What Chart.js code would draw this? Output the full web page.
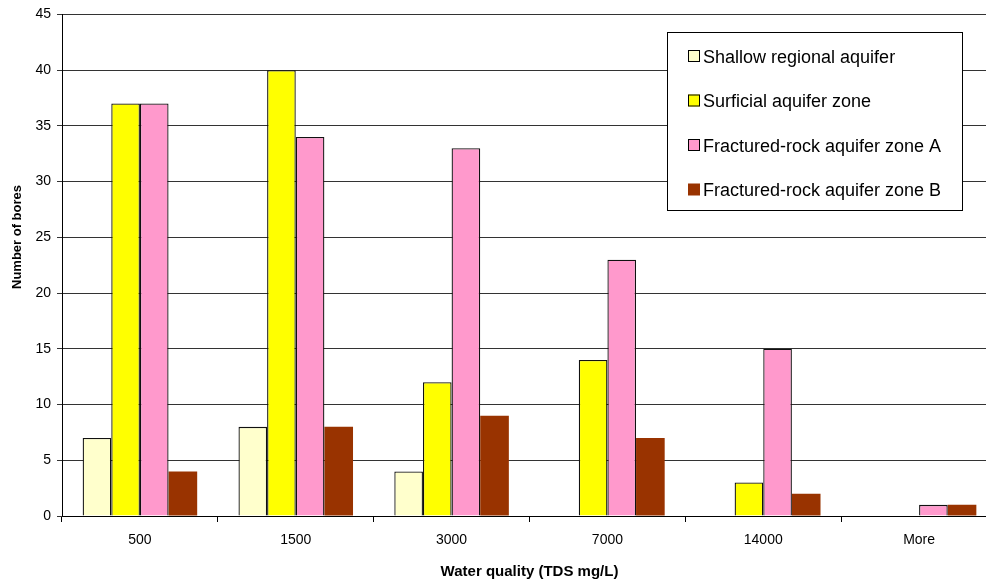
<!DOCTYPE html>
<html>
<head>
<meta charset="utf-8">
<script src="https://cdn.jsdelivr.net/npm/chart.js@4"></script>
<style>
  html, body { margin: 0; padding: 0; background: #fff; overflow: hidden; }
  #wrap { width: 997px; height: 581px; }
</style>
</head>
<body>
<div id="wrap"><canvas id="chart"></canvas></div>
<script>
// categories and series
const categories = ['500', '1500', '3000', '7000', '14000', 'More'];
const shallowRegional = [7, 8, 4, 0, 0, 0];
const surficialZone = [37, 40, 12, 14, 3, 0];
const fracturedZoneA = [37, 34, 33, 23, 15, 1];
const fracturedZoneB = [4, 8, 9, 7, 2, 1];
const seriesNames = [
  'Shallow regional aquifer',
  'Surficial aquifer zone',
  'Fractured-rock aquifer zone A',
  'Fractured-rock aquifer zone B'
];
const yAxisTitle = 'Number of bores';

const FONT = "'Liberation Sans', Arial, sans-serif";

// legend box drawn inside the plot, top right
const boxLegend = {
  id: 'boxLegend',
  afterDraw(chart) {
    const ctx = chart.ctx;
    const x = 667, y = 32, w = 295, h = 178;
    ctx.save();
    ctx.fillStyle = '#fff';
    ctx.fillRect(x, y, w, h);
    ctx.strokeStyle = '#000';
    ctx.lineWidth = 1;
    ctx.strokeRect(x + 0.5, y + 0.5, w, h);
    ctx.font = '18px ' + FONT;
    ctx.textBaseline = 'middle';
    chart.data.datasets.forEach((ds, i) => {
      const cy = y + 25 + i * 44.5;
      ctx.fillStyle = ds.backgroundColor;
      ctx.fillRect(688, cy - 7, 12, 12);
      if (ds.borderWidth) {
        ctx.strokeStyle = '#000';
        ctx.strokeRect(688.5, cy - 6.5, 11, 11);
      }
      ctx.fillStyle = '#000';
      ctx.fillText(ds.label, 703, cy + 1);
    });
    ctx.restore();
  }
};

// y title sits a bit above the middle in the original
const yTitle = {
  id: 'yTitle',
  afterDraw(chart) {
    const ctx = chart.ctx;
    ctx.save();
    ctx.translate(17, 237);
    ctx.rotate(-Math.PI / 2);
    ctx.font = 'bold 13px ' + FONT;
    ctx.fillStyle = '#000';
    ctx.textAlign = 'center';
    ctx.textBaseline = 'middle';
    ctx.fillText(yAxisTitle, 0, 0);
    ctx.restore();
  }
};

new Chart(document.getElementById('chart'), {
  type: 'bar',
  data: {
    labels: categories,
    datasets: [
      { label: seriesNames[0], data: shallowRegional, backgroundColor: '#FFFFCC', borderColor: '#111', borderWidth: 1.3 },
      { label: seriesNames[1], data: surficialZone, backgroundColor: '#FFFF00', borderColor: '#111', borderWidth: 1.3 },
      { label: seriesNames[2], data: fracturedZoneA, backgroundColor: '#FF99CC', borderColor: '#111', borderWidth: 1.3 },
      { label: seriesNames[3], data: fracturedZoneB, backgroundColor: '#993300', borderWidth: 0 }
    ]
  },
  options: {
    responsive: true,
    maintainAspectRatio: false,
    animation: false,
    layout: { padding: { top: 11, right: 0, bottom: 0, left: 0 } },
    plugins: {
      legend: { display: false },
      tooltip: { enabled: false }
    },
    datasets: {
      bar: { categoryPercentage: 0.735, barPercentage: 1.0 }
    },
    scales: {
      x: {
        grid: {
          offset: true,
          drawOnChartArea: false,
          color: '#000',
          tickLength: 6
        },
        border: { color: '#000', width: 1 },
        ticks: { color: '#000', font: { family: FONT, size: 14 }, padding: 10 },
        title: {
          display: true,
          text: 'Water quality (TDS mg/L)',
          color: '#000',
          font: { family: FONT, size: 15, weight: 'bold' },
          padding: { top: 8, bottom: 0 }
        },
        afterFit(scale) { scale.height = 65; }
      },
      y: {
        min: 0,
        max: 45,
        ticks: { stepSize: 5, color: '#000', font: { family: FONT, size: 14 }, padding: 6 },
        grid: { color: '#333', tickLength: 5, lineWidth: 1 },
        border: { color: '#000', width: 1 },
        title: { display: false },
        afterFit(scale) { scale.width = 62; }
      }
    }
  },
  plugins: [boxLegend, yTitle]
});
</script>
</body>
</html>
